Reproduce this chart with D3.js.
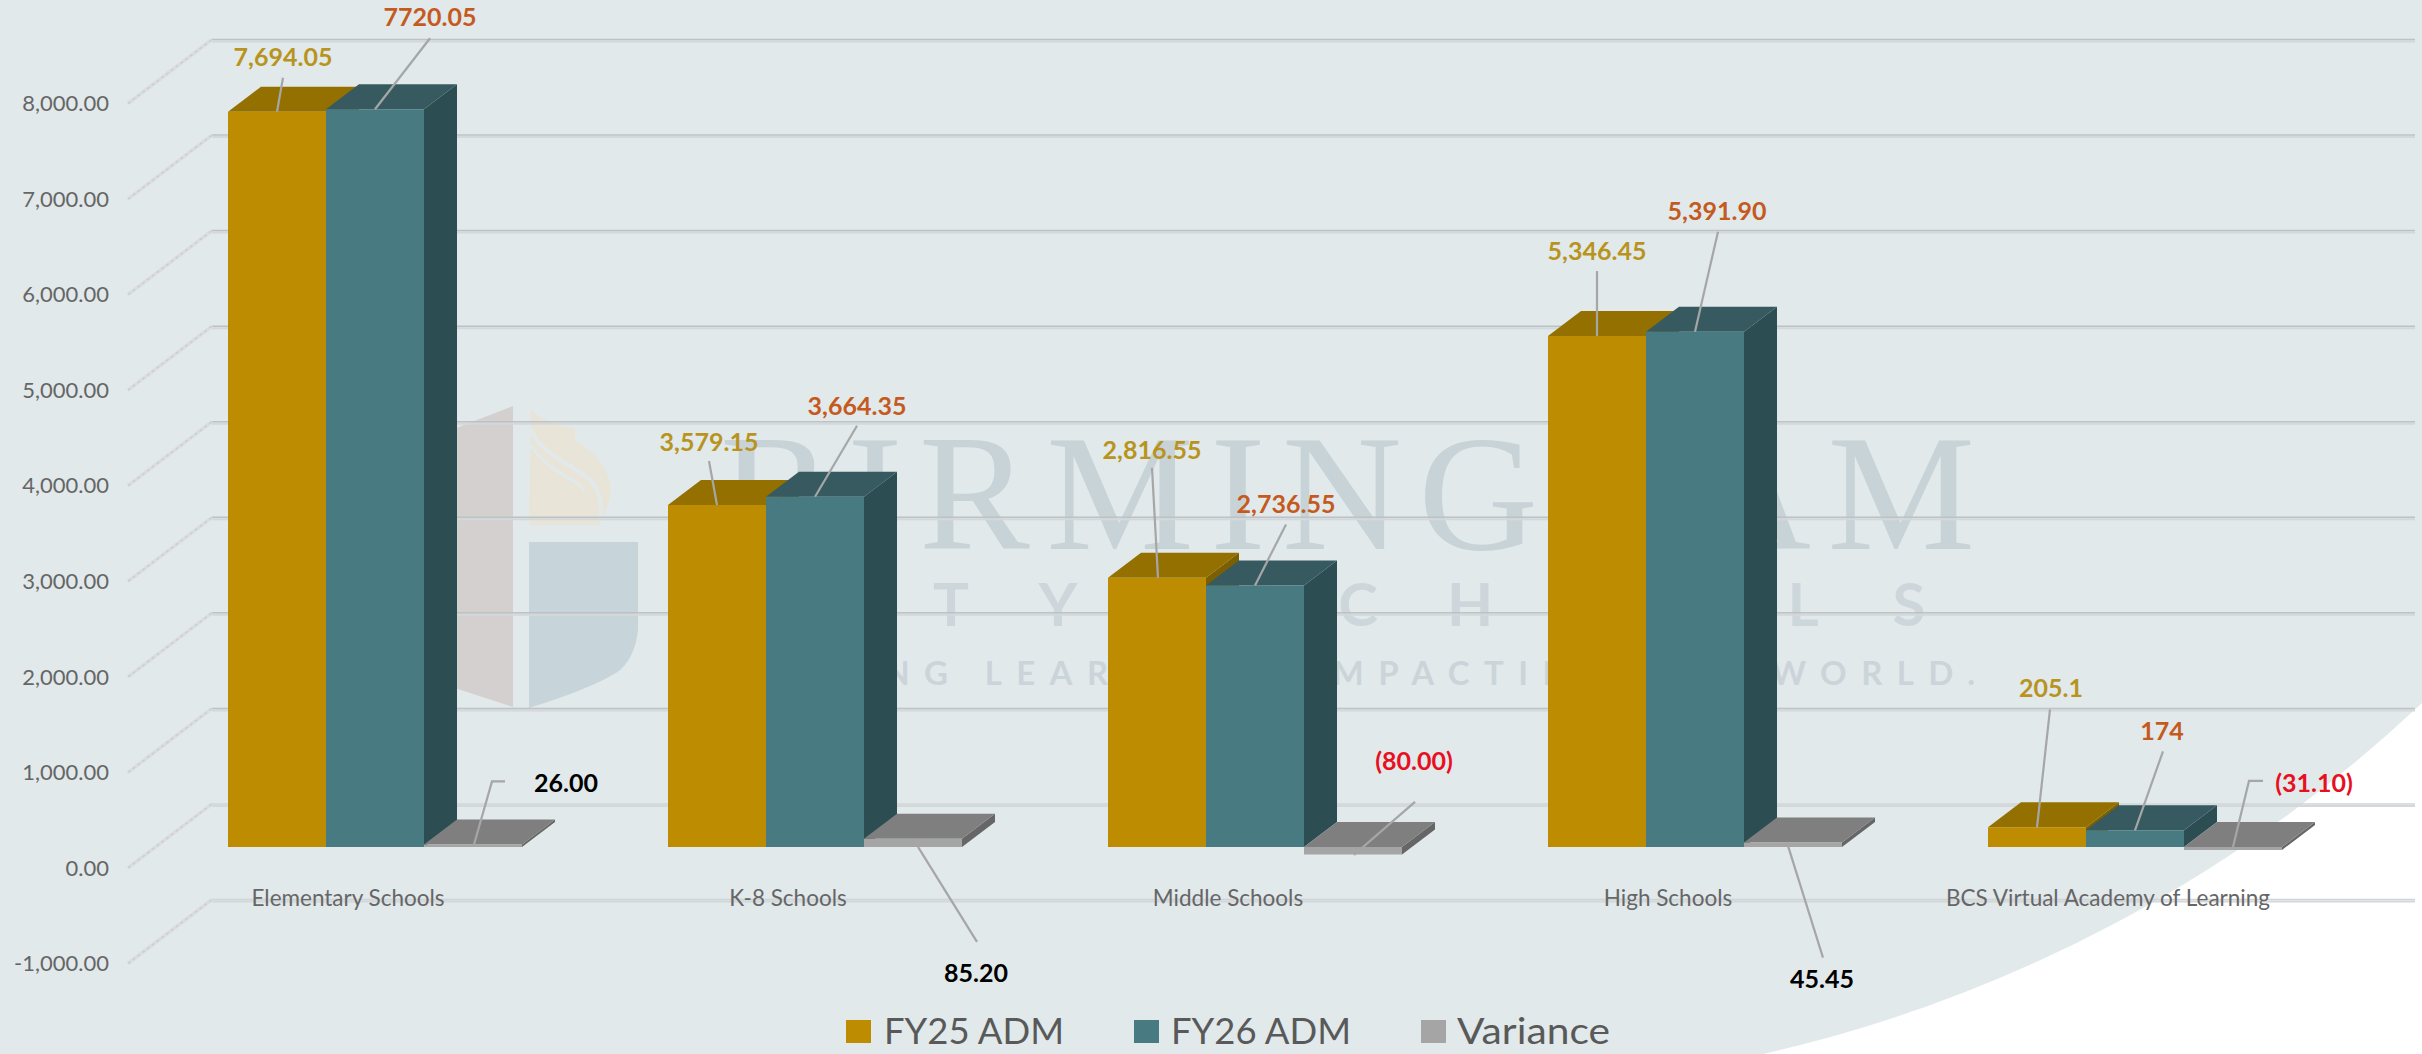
<!DOCTYPE html>
<html><head><meta charset="utf-8">
<script src="https://cdn.jsdelivr.net/npm/d3@7"></script>
<style>html,body{margin:0;padding:0;background:#fff}svg{display:block}text{font-family:Lato,sans-serif}</style>
</head><body><div id="c"></div>
<script>
const categories = ["Elementary Schools","K-8 Schools","Middle Schools","High Schools","BCS Virtual Academy of Learning"];
const seriesNames = ["FY25 ADM","FY26 ADM","Variance"];
const fy25 = [7694.05,3579.15,2816.55,5346.45,205.1];
const fy26 = [7720.05,3664.35,2736.55,5391.90,174];
const variance = [26.00,85.20,-80.00,45.45,-31.10];
const fy25Labels = ["7,694.05","3,579.15","2,816.55","5,346.45","205.1"];
const fy26Labels = ["7720.05","3,664.35","2,736.55","5,391.90","174"];
const varianceLabels = ["26.00","85.20","(80.00)","45.45","(31.10)"];
const yTicks = [-1000,0,1000,2000,3000,4000,5000,6000,7000,8000];

const W=2422,H=1054;
const svg=d3.select("#c").append("svg").attr("width",W).attr("height",H);
const y=d3.scaleLinear().domain([-1000,8000]).range([963.5,103.5]);
const x0=d3.scaleBand().domain(categories).range([128,2328]);
const x1=d3.scaleBand().domain(seriesNames).range([73,367]);
const wallDx=84, wallDy=-64, floorDx=27, floorDy=-21, barDx=33, barDy=-25;
const fmt=d3.format(",.2f");

// background
svg.append("rect").attr("width",W).attr("height",H).attr("fill","#E1E9EB");
svg.append("path").attr("d","M2422,703 A1417,1417 0 0 1 1763,1054 L2422,1054 Z").attr("fill","#fff");

// watermark
const wm=svg.append("g");
wm.append("path").attr("d","M430,438 L513,406 L513,707 L430,680 Z").attr("fill","#D3D0CF");
wm.append("path").attr("d","M529,542 L638,542 L638,630 C636,650 628,665 616,673 C590,688 560,698 529,708 Z").attr("fill","#C7D5DA");
wm.append("path").attr("d","M531,410 C545,422 562,428 575,428 L575,440 C595,452 609,468 611,490 C610,505 603,518 598,525 L529,525 Z").attr("fill","#E8E5D8");
wm.append("path").attr("d","M530,428 C540,455 575,465 590,480 C600,490 603,505 600,520").attr("fill","none").attr("stroke","#E1E9EB").attr("stroke-width",4);
wm.append("path").attr("d","M531,445 C545,470 570,475 585,490").attr("fill","none").attr("stroke","#E1E9EB").attr("stroke-width",3);
wm.append("text").attr("x",720).attr("y",549).attr("textLength",1255).attr("lengthAdjust","spacing")
  .attr("style","font-family:'Liberation Serif',serif;font-size:166px").attr("fill","#C8D3D7").text("BIRMINGHAM");
const cityLetters=[["C",740],["I",840],["T",951],["Y",1058],["S",1260],["C",1358],["H",1470],["O",1580],["O",1690],["L",1803],["S",1909]];
wm.selectAll(".cl").data(cityLetters).join("text").attr("x",d=>d[1]).attr("y",626).attr("text-anchor","middle")
  .attr("font-size",60).attr("font-weight",700).attr("fill","#CDD7DB").text(d=>d[0]);
wm.append("text").attr("x",860).attr("y",685).attr("textLength",1115).attr("lengthAdjust","spacing")
  .attr("font-size",33).attr("font-weight",700).attr("fill","#CBD5D9").text("ING LEARNERS. IMPACTING THE WORLD.");

// walls: gridlines
const grid=svg.append("g");
yTicks.forEach(t=>{
  const yy=y(t), bx=128+wallDx, by=yy+wallDy;
  grid.append("line").attr("x1",bx).attr("x2",2415).attr("y1",by+2).attr("y2",by+2).attr("stroke","#D3D8DA").attr("stroke-width",2);
  grid.append("line").attr("x1",bx).attr("x2",2415).attr("y1",by).attr("y2",by).attr("stroke",t>=1000&&t<=8000?"#BEC2C4":"#D0D4D6").attr("stroke-width",1.5);
  grid.append("path").attr("d",`M128,${yy} L${bx},${by}`).attr("fill","none").attr("stroke","#DBDDDE").attr("stroke-width",3.5);
  grid.append("path").attr("d",`M128,${yy} L${bx},${by}`).attr("fill","none").attr("stroke","#C9CBCC").attr("stroke-width",1.2).attr("stroke-dasharray","3 3");
  svg.append("text").attr("x",109).attr("y",yy).attr("dy","0.35em").attr("text-anchor","end")
    .attr("font-size",22).attr("fill","#666").text(fmt(t).replace("\u2212","-"));
});

// bars
const seriesValues=[fy25,fy26,variance];
const shades=[{front:"#BD8C00",top:"#937000",side:"#7C5F00"},{front:"#487A82",top:"#365A60",side:"#2C4E52"},{front:"#A5A5A5",top:"#7F7F7F",side:"#666666"}];
const bars=svg.append("g");
const poly=(pts,fill)=>bars.append("polygon").attr("points",pts.map(p=>p.join(",")).join(" ")).attr("fill",fill);
const anchors=seriesNames.map(()=>[]);
categories.forEach((c,ci)=>{
  seriesNames.forEach((s,si)=>{
    const v=seriesValues[si][ci];
    const xl=x0(c)+floorDx+x1(s), xr=xl+x1.bandwidth();
    const yt=y(Math.max(v,0))+floorDy, yb=y(Math.min(v,0))+floorDy;
    const sh=shades[si];
    poly([[xr,yt],[xr+barDx,yt+barDy],[xr+barDx,yb+barDy],[xr,yb]],sh.side);
    poly([[xl,yt],[xl+barDx,yt+barDy],[xr+barDx,yt+barDy],[xr,yt]],sh.top);
    poly([[xl,yt],[xr,yt],[xr,yb],[xl,yb]],sh.front);
    anchors[si][ci]=[(xl+xr)/2,yt];
  });
});

// category labels
categories.forEach(c=>{
  svg.append("text").attr("x",x0(c)+x0.bandwidth()/2).attr("y",898).attr("dy","0.35em").attr("text-anchor","middle")
    .attr("font-size",22.5).attr("fill","#666").text(c);
});

// data labels: label centre and leader points relative to the bar's front-top centre
const labelStyle=[{fill:"#B8941E"},{fill:"#C55A1E"},{fill:"#000"}];
const layouts=[
 [{l:[6,-54],p:[[6,-34],[0,0]]},{l:[-8,-63],p:[[-8,-44],[0,0]]},{l:[-5,-128],p:[[-5,-110],[1,0]]},{l:[0,-85],p:[[0,-65],[0,0]]},{l:[14,-139],p:[[13,-118],[0,0]]}],
 [{l:[55,-92],p:[[55,-71],[0,0]]},{l:[42,-91],p:[[42,-71],[0,0]]},{l:[31,-81],p:[[31,-61],[0,0]]},{l:[22,-120],p:[[23,-100],[0,0]]},{l:[27,-99],p:[[28,-79],[0,0]]}],
 [{l:[93,-61],p:[[32,-63],[19,-63],[1,0]]},{l:[63,134],p:[[64,103],[5,8]]},{l:[61,-86],p:[[62,-45],[1,8]]},{l:[29,137],p:[[30,115],[-6,0]]},{l:[81,-64],p:[[30,-66],[16,-66],[0,0]]}]
];
const labelTexts=[fy25Labels,fy26Labels,varianceLabels];
const leaders=svg.append("g"), labels=svg.append("g");
seriesNames.forEach((s,si)=>categories.forEach((c,ci)=>{
  const a=anchors[si][ci], L=layouts[si][ci];
  const neg=seriesValues[si][ci]<0;
  const pts=L.p.map(p=>[a[0]+p[0],a[1]+p[1]]);
  leaders.append("polyline").attr("points",pts.map(p=>p.join(",")).join(" ")).attr("fill","none").attr("stroke","#A6A6A6").attr("stroke-width",2.2);
  labels.append("text").attr("x",a[0]+L.l[0]).attr("y",a[1]+L.l[1]).attr("dy","0.35em").attr("text-anchor","middle")
    .attr("font-size",25).attr("font-weight",700).attr("fill",neg?"#E8101F":labelStyle[si].fill).text(labelTexts[si][ci]);
}));

// legend
const legendX=[846,1134,1421], legendTextX=[884,1171,1457], legendTextW=[180,180,153];
seriesNames.forEach((s,i)=>{
  svg.append("rect").attr("x",legendX[i]).attr("y",1020).attr("width",25).attr("height",23).attr("fill",shades[i].front);
  svg.append("text").attr("x",legendTextX[i]).attr("y",1044).attr("font-size",37).attr("textLength",legendTextW[i]).attr("lengthAdjust","spacingAndGlyphs").attr("fill","#595959").text(s);
});
</script></body></html>
